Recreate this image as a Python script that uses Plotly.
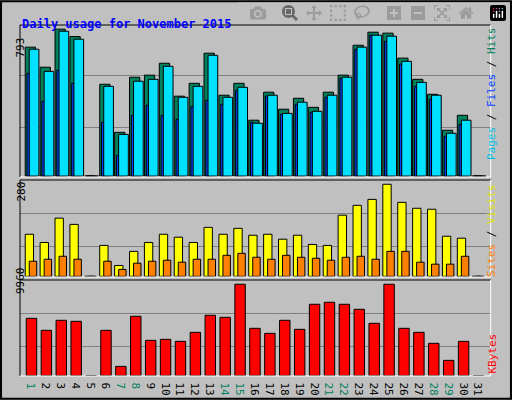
import plotly.graph_objects as go

days = list(range(1, 32))
weekend = [1, 7, 8, 14, 15, 21, 22, 28, 29]

hits = [681, 575, 776, 737, 0, 485, 231, 522, 533, 596, 422, 490, 649, 427, 490, 295,
        443, 353, 411, 363, 443, 533, 691, 760, 755, 623, 511, 432, 242, 321, 0]
files = [670, 553, 765, 723, 0, 474, 220, 501, 511, 580, 416, 474, 638, 416, 469, 279,
         427, 331, 390, 342, 427, 522, 681, 744, 739, 606, 495, 427, 226, 295, 0]
pages = [543, 395, 559, 490, 0, 284, 109, 321, 374, 321, 300, 368, 400, 379, 453, 284,
         422, 326, 379, 337, 416, 517, 670, 744, 712, 591, 474, 406, 210, 273, 0]
visits = [128, 103, 177, 158, 0, 94, 33, 76, 103, 128, 119, 103, 149, 128, 146, 125,
          128, 113, 125, 97, 94, 186, 216, 234, 280, 225, 207, 204, 122, 116, 0]
sites = [46, 52, 61, 52, 0, 46, 21, 40, 46, 49, 43, 52, 52, 64, 70, 58,
         52, 64, 58, 55, 49, 58, 61, 52, 76, 76, 43, 37, 37, 61, 0]
kbytes = [6252, 4944, 6034, 5925, 0, 4944, 1018, 6470, 3853, 3962, 3744, 4726, 6579, 6361, 9960, 5162,
          4616, 6034, 5053, 7779, 7997, 7779, 7234, 5707, 9960, 5162, 4726, 3526, 1672, 3744, 0]

def bar(y, color, offset, width, xa, ya):
    return go.Bar(x=days, y=y, offset=offset, width=width, marker_color=color,
                  marker_line=dict(color='black', width=1), xaxis=xa, yaxis=ya,
                  showlegend=False, hoverinfo='skip')

fig = go.Figure()
fig.add_trace(bar(hits, '#00805C', -0.52, 0.69, 'x', 'y'))
fig.add_trace(bar(pages, '#0040FF', -0.40, 0.18, 'x', 'y'))
fig.add_trace(bar(files, '#00E0FF', -0.25, 0.65, 'x', 'y'))
fig.add_trace(bar(visits, '#FFFF00', -0.52, 0.56, 'x2', 'y2'))
fig.add_trace(bar(sites, '#FF8000', -0.25, 0.50, 'x2', 'y2'))
fig.add_trace(bar(kbytes, '#FF0000', -0.45, 0.70, 'x3', 'y3'))

ticktext = ["<span style='color:#00805C'>%d</span>" % d if d in weekend else str(d) for d in days]
xcommon = dict(range=[0.13, 31.72], domain=[20 / 512, 490.7 / 512], showgrid=False,
               zeroline=False, fixedrange=True)
ycommon = dict(showticklabels=False, gridcolor='#808080', gridwidth=1, zeroline=False, ticks='')

fig.update_layout(
    width=512, height=400, margin=dict(l=0, r=0, t=0, b=0),
    paper_bgcolor='#C0C0C0', plot_bgcolor='#C0C0C0', barmode='overlay',
    font=dict(family='DejaVu Sans Mono', size=11, color='black'),
    xaxis=dict(**xcommon, anchor='y', showticklabels=False),
    xaxis2=dict(**xcommon, anchor='y2', showticklabels=False),
    xaxis3=dict(**xcommon, anchor='y3', tickvals=days, ticktext=ticktext, ticks=''),
    yaxis=dict(**ycommon, domain=[0.5575, 0.9375], range=[-5, 798], tickvals=[259, 529]),
    yaxis2=dict(**ycommon, domain=[0.3075, 0.55], range=[-2, 293], tickvals=[92, 192]),
    yaxis3=dict(**ycommon, domain=[0.06, 0.30], range=[-30, 10423], tickvals=[3199, 6797]),
)

shapes = [
    dict(type='rect', xref='paper', yref='paper', x0=0.002, y0=0.003, x1=0.998, y1=0.997,
         line=dict(color='black', width=2)),
]
for y0, y1 in [(0.5575, 0.9375), (0.3075, 0.55), (0.06, 0.30)]:
    x0, x1 = 20 / 512, 490.7 / 512
    shapes.append(dict(type='line', xref='paper', yref='paper', x0=x0, x1=x1, y0=y1, y1=y1,
                       line=dict(color='black', width=1)))
    shapes.append(dict(type='line', xref='paper', yref='paper', x0=x0, x1=x0, y0=y0, y1=y1,
                       line=dict(color='black', width=1)))
    shapes.append(dict(type='line', xref='paper', yref='paper', x0=x0, x1=x1, y0=y0, y1=y0,
                       line=dict(color='white', width=1)))
    shapes.append(dict(type='line', xref='paper', yref='paper', x0=x1, x1=x1, y0=y0, y1=y1,
                       line=dict(color='white', width=1)))
fig.update_layout(shapes=shapes)

ann = [
    dict(text='<b>Daily usage for November 2015</b>', x=20 / 512, y=1 - 15 / 400, xanchor='left',
         font=dict(color='#0000FF', size=12)),
    dict(text='793', x=12 / 512, y=1 - 36 / 400, textangle=-90),
    dict(text='280', x=12 / 512, y=1 - 192 / 400, textangle=-90),
    dict(text='9960', x=12 / 512, y=1 - 296 / 400, textangle=-90),
    dict(text="<span style='color:#00C0E0'>Pages</span> / <span style='color:#0040FF'>Files</span>"
              " / <span style='color:#00805C'>Hits</span>",
         x=500 / 512, y=1 - 25 / 400, yanchor='top', textangle=-90),
    dict(text="<span style='color:#FF8000'>Sites</span> / <span style='color:#E0E000'>Visits</span>",
         x=500 / 512, y=1 - 182 / 400, yanchor='top', textangle=-90),
    dict(text="<span style='color:#FF0000'>KBytes</span>",
         x=500 / 512, y=1 - 376 / 400, yanchor='bottom', textangle=-90),
]
for a in ann:
    a.update(xref='paper', yref='paper', showarrow=False)
fig.update_layout(annotations=ann)

fig.write_html("out.html", post_script="document.body.style.margin='0';")
